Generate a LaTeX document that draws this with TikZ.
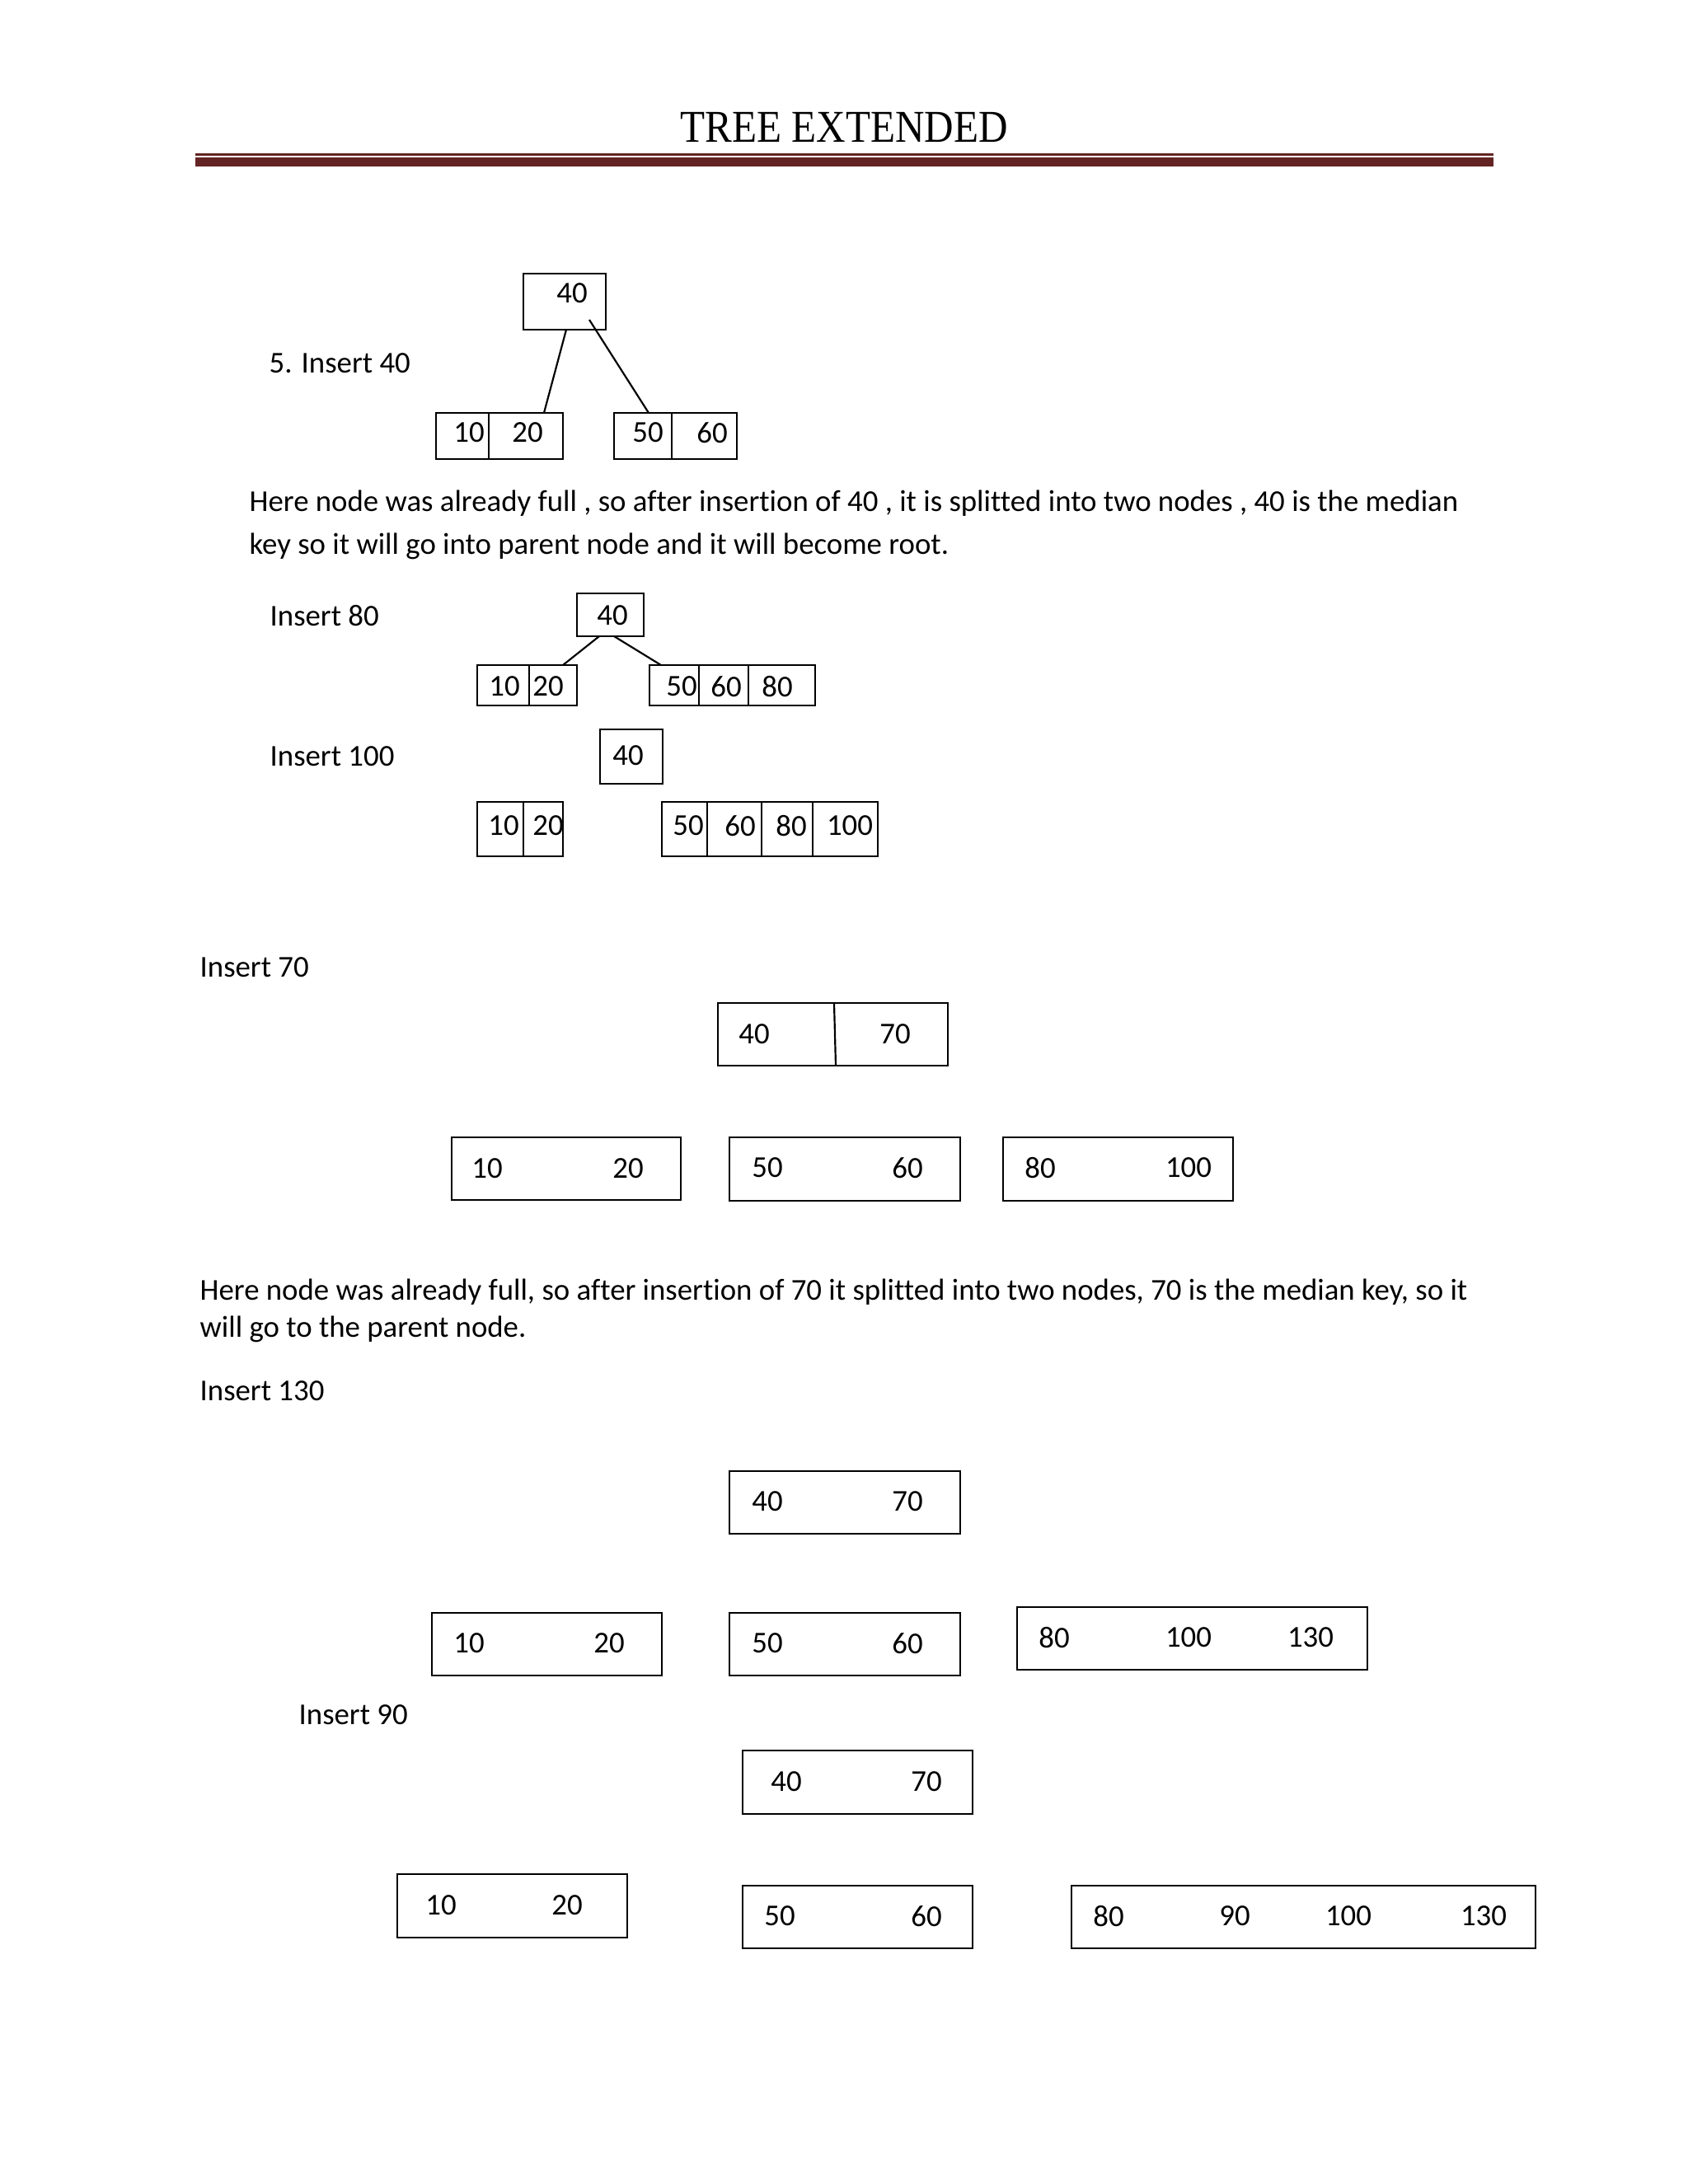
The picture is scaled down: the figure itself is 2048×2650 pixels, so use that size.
\documentclass[tikz,border=0pt]{standalone}
\usepackage{fontspec}
\setmainfont[Ligatures=NoCommon]{Carlito}
\newfontfamily\titlefont{Liberation Serif}
\definecolor{rulered}{RGB}{99,36,35}
\def\upx{0.29883pt}
\newcommand\keybox[5]{\node[keyframe, minimum width={(#4-#2)*\upx}, minimum height={(#5-#3)*\upx}] (#1) at ({(#2+#4)/2},{(#3+#5)/2}) {};}
\tikzset{
  keyframe/.style={draw, line width=0.65pt, inner sep=0pt, outer sep=0pt},
  num/.style={font=\fontsize{11}{13}\selectfont, inner sep=0pt, anchor=center},
  lbl/.style={font=\fontsize{11}{13}\selectfont, inner sep=0pt, anchor=base west},
  cell/.style={line width=0.65pt},
  link/.style={line width=0.65pt},
}
\begin{document}
\begin{tikzpicture}[x=0.29883pt,y=-0.29883pt]
\useasboundingbox (0,0) rectangle (2048,2650);
\fill[white] (0,0) rectangle (2048,2650);

% title and rules
\node[inner sep=0pt, anchor=base] (title) at (1024,172) {\scalebox{0.89}[1]{\titlefont\fontsize{16.5}{20}\selectfont TREE EXTENDED}};
\fill[rulered] (237,186) rectangle (1812,188.5);
\fill[rulered] (237,191) rectangle (1812,202);

% ---------- 5. Insert 40
\node[lbl] (l40) at (326,452) {5. Insert 40};
\keybox{r1}{635}{332}{735}{400}
\node[num] (r1k1) at (694,356) {40};
\keybox{a1}{529}{501}{683}{557}
\draw[cell] (593,501) -- (593,557);
\node[num] (a1k1) at (569,525) {10};
\node[num] (a1k2) at (640,525) {20};
\keybox{b1}{745}{501}{894}{557}
\draw[cell] (815,501) -- (815,557);
\node[num] (b1k1) at (786,525) {50};
\node[num] (b1k2) at (864,525) {60};
\coordinate (r1p1) at (687,400);
\coordinate (a1p) at (660,501);
\coordinate (r1p2) at (715,388);
\coordinate (b1p) at (787,501);
\draw[link] (r1p1) -- (a1p);
\draw[link] (r1p2) -- (b1p);

\node[lbl] (p1a) at (302,620) {Here node was already full , so after insertion of 40 , it is splitted into two nodes , 40 is the median};
\node[lbl] (p1b) at (302,672) {key so it will go into parent node and it will become root.};

% ---------- Insert 80
\node[lbl] (l80) at (327,759) {Insert 80};
\keybox{r2}{700}{720}{781}{772}
\node[num] (r2k1) at (743,747) {40};
\keybox{a2}{579}{807}{700}{856}
\draw[cell] (642,807) -- (642,856);
\node[num] (a2k1) at (612,833) {10};
\node[num] (a2k2) at (665,833) {20};
\keybox{b2}{788}{807}{989}{856}
\draw[cell] (848,807) -- (848,856);
\draw[cell] (908,807) -- (908,856);
\node[num] (b2k1) at (827,833) {50};
\node[num] (b2k2) at (881,833) {60};
\node[num] (b2k3) at (943,833) {80};
\coordinate (r2p1) at (727,772);
\coordinate (a2p) at (683,807);
\coordinate (r2p2) at (745,772);
\coordinate (b2p) at (802,807);
\draw[link] (r2p1) -- (a2p);
\draw[link] (r2p2) -- (b2p);

% ---------- Insert 100
\node[lbl] (l100) at (327,929) {Insert 100};
\keybox{r3}{728}{885}{804}{951}
\node[num] (r3k1) at (762,917) {40};
\keybox{a3}{579}{973}{683}{1039}
\draw[cell] (635,973) -- (635,1039);
\node[num] (a3k1) at (611,1002) {10};
\node[num] (a3k2) at (665,1002) {20};
\keybox{b3}{803}{973}{1065}{1039}
\draw[cell] (858,973) -- (858,1039);
\draw[cell] (924,973) -- (924,1039);
\draw[cell] (986,973) -- (986,1039);
\node[num] (b3k1) at (835,1002) {50};
\node[num] (b3k2) at (898,1002) {60};
\node[num] (b3k3) at (960,1002) {80};
\node[num] (b3k4) at (1031,1002) {100};

% ---------- Insert 70
\node[lbl] (l70) at (242,1185) {Insert 70};
\keybox{r4}{871}{1217}{1150}{1293}
\draw[cell] (1012,1217) -- (1014,1293);
\node[num] (r4k1) at (915,1255) {40};
\node[num] (r4k2) at (1086,1255) {70};
\keybox{a4}{548}{1380}{826}{1456}
\node[num] (a4k1) at (591,1418) {10};
\node[num] (a4k2) at (762,1418) {20};
\keybox{b4}{885}{1380}{1165}{1457}
\node[num] (b4k1) at (931,1417) {50};
\node[num] (b4k2) at (1101,1417) {60};
\keybox{c4}{1217}{1380}{1496}{1457}
\node[num] (c4k1) at (1262,1417) {80};
\node[num] (c4k2) at (1442,1417) {100};

\node[lbl] (p2a) at (242,1577) {Here node was already full, so after insertion of 70 it splitted into two nodes, 70 is the median key, so it};
\node[lbl] (p2b) at (242,1622) {will go to the parent node.};

% ---------- Insert 130
\node[lbl] (l130) at (242,1699) {Insert 130};
\keybox{r5}{885}{1785}{1165}{1861}
\node[num] (r5k1) at (931,1822) {40};
\node[num] (r5k2) at (1101,1822) {70};
\keybox{a5}{524}{1957}{803}{2033}
\node[num] (a5k1) at (569,1994) {10};
\node[num] (a5k2) at (739,1994) {20};
\keybox{b5}{885}{1957}{1165}{2033}
\node[num] (b5k1) at (931,1994) {50};
\node[num] (b5k2) at (1101,1994) {60};
\keybox{c5}{1234}{1950}{1659}{2026}
\node[num] (c5k1) at (1279,1987) {80};
\node[num] (c5k2) at (1442,1987) {100};
\node[num] (c5k3) at (1590,1987) {130};

% ---------- Insert 90
\node[lbl] (l90) at (362,2092) {Insert 90};
\keybox{r6}{901}{2124}{1180}{2201}
\node[num] (r6k1) at (954,2162) {40};
\node[num] (r6k2) at (1124,2162) {70};
\keybox{a6}{482}{2274}{761}{2351}
\node[num] (a6k1) at (535,2312) {10};
\node[num] (a6k2) at (688,2312) {20};
\keybox{b6}{901}{2288}{1180}{2364}
\node[num] (b6k1) at (946,2325) {50};
\node[num] (b6k2) at (1124,2325) {60};
\keybox{c6}{1300}{2288}{1863}{2364}
\node[num] (c6k1) at (1345,2325) {80};
\node[num] (c6k2) at (1498,2325) {90};
\node[num] (c6k3) at (1636,2325) {100};
\node[num] (c6k4) at (1800,2325) {130};
\end{tikzpicture}
\end{document}
